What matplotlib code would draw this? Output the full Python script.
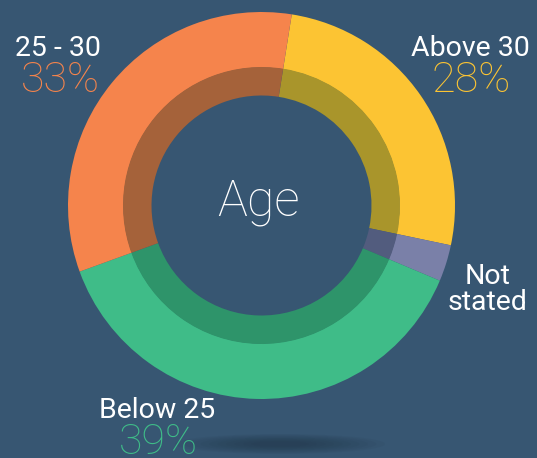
import matplotlib.pyplot as plt
from matplotlib.patches import Ellipse

# shares (clockwise from the top)
groups = ['Above 30', 'Not stated', 'Below 25', '25 - 30']
shares = [25.8, 3.05, 38.1, 33.05]
ring_colors = ['#FCC433', '#7A80A8', '#3FBC88', '#F5844C']
inner_colors = ['#A9952B', '#525C7E', '#2E946A', '#A5623A']

# printed labels
label_names = ['25 - 30', 'Above 30', 'Below 25']
label_pcts = ['33%', '28%', '39%']
label_colors = ['#F5844C', '#FCC433', '#3FBC88']

bg = '#375672'
W, H = 537, 458

fig = plt.figure(figsize=(W / 100, H / 100), dpi=100, facecolor=bg)
ax = fig.add_axes([0, 0, 1, 1])
ax.set_facecolor(bg)

cx, cy = 261.5, H - 205.5

# soft shadow under the donut
for i in range(10):
    ax.add_patch(Ellipse((280, H - 444), 210 - i * 17, 20 - i * 1.6,
                         facecolor='#1c2e3e', edgecolor='none', alpha=0.06, zorder=0))

ax.pie(shares, colors=ring_colors, startangle=81, counterclock=False,
       radius=193.5, center=(cx, cy),
       wedgeprops=dict(width=55.5, edgecolor='none', linewidth=0))
ax.pie(shares, colors=inner_colors, startangle=81, counterclock=False,
       radius=138.5, center=(cx, cy),
       wedgeprops=dict(width=28.5, edgecolor='none', linewidth=0))

ax.set_xlim(0, W)
ax.set_ylim(0, H)
ax.set_aspect('equal')
ax.axis('off')

name_font = dict(family=['Roboto', 'DejaVu Sans'], color='white', fontsize=20.5)
pct_font = dict(family=['Roboto', 'DejaVu Sans'], fontweight='light', fontsize=31)

name_pos = [(58, 48), (470, 48), (157, 411)]
pct_pos = [(60, 80), (471, 80), (158, 442)]
for name, pct, col, (nx, ny), (px, py) in zip(label_names, label_pcts, label_colors,
                                               name_pos, pct_pos):
    ax.text(nx, H - ny, name, ha='center', va='center', **name_font)
    ax.text(px, H - py, pct, ha='center', va='center', color=col, **pct_font)

ax.text(488, H - 276, 'Not', ha='center', va='center', **name_font)
ax.text(488, H - 302, 'stated', ha='center', va='center', **name_font)

ax.text(258, H - 202, 'Age', ha='center', va='center', color='white',
        family=['Roboto', 'DejaVu Sans'], fontweight='light', fontsize=36)

fig.savefig('out.png', dpi=100, facecolor=bg)
